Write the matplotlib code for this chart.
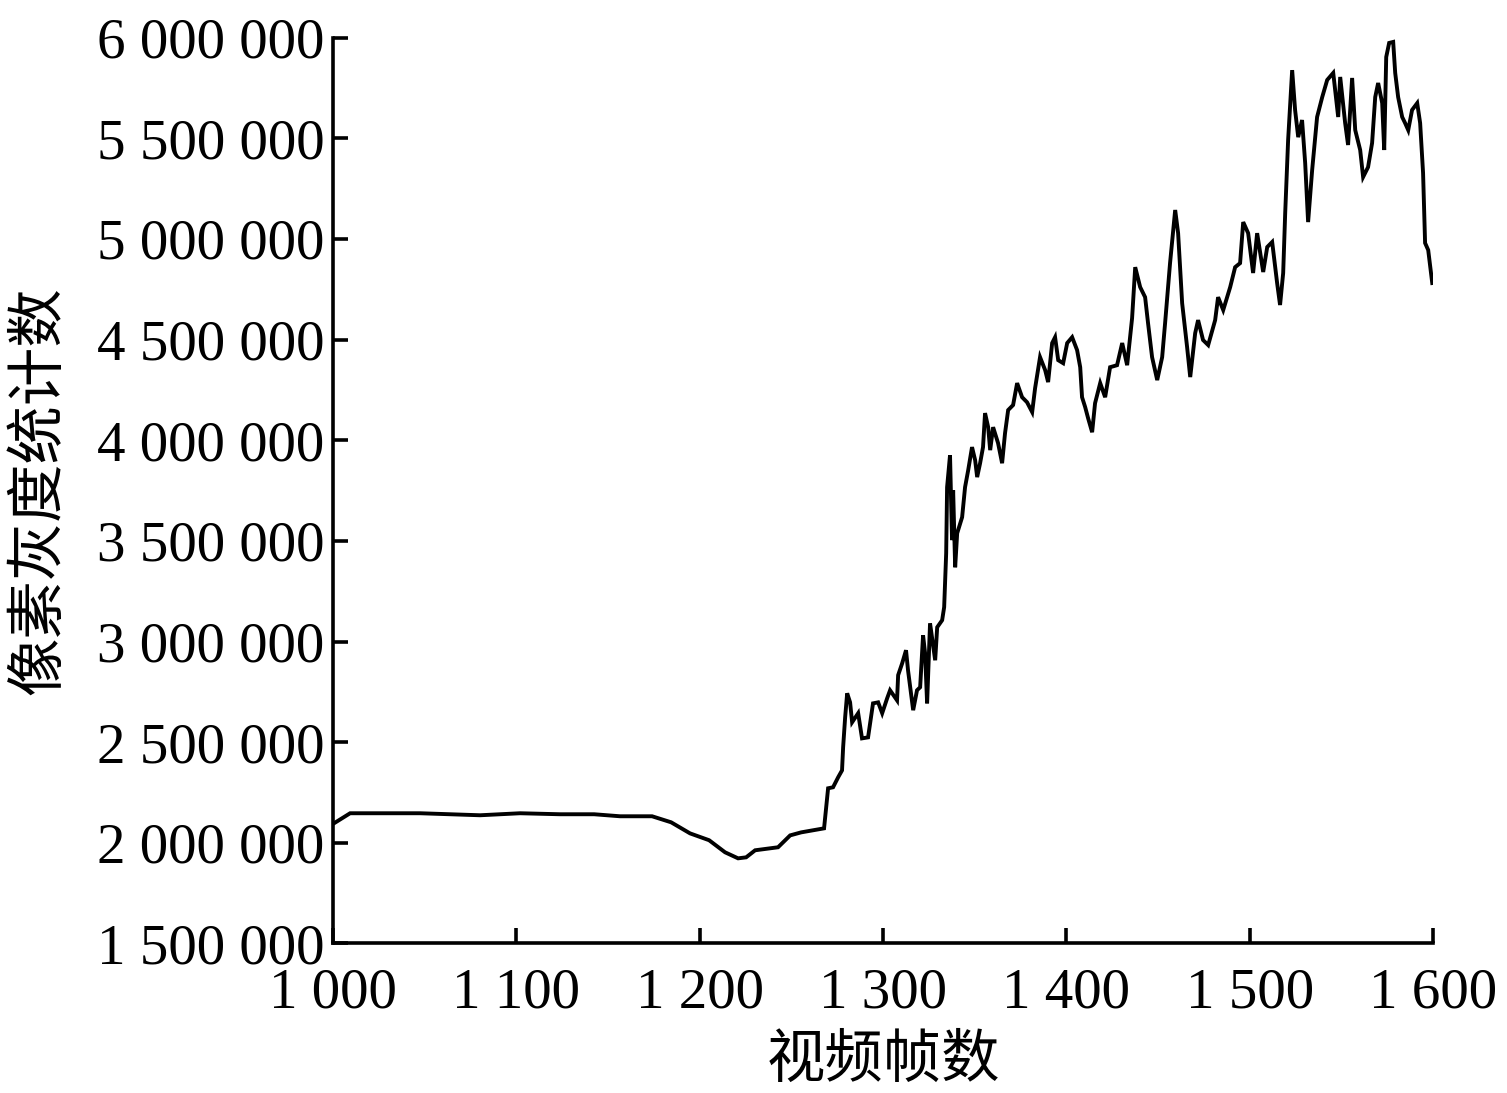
import matplotlib
matplotlib.use("Agg")
import matplotlib.pyplot as plt
from matplotlib.ticker import FuncFormatter

frames = [1000.5, 1009.3, 1017.5, 1047.5, 1080.2, 1102.0, 1123.8, 1142.4, 1156.5, 1174.0,
          1184.4, 1194.7, 1205.1, 1213.8, 1220.9, 1225.3, 1230.2, 1242.7, 1249.3, 1255.3,
          1267.8, 1270.0, 1272.7, 1275.5, 1277.6, 1278.2, 1279.3, 1280.4, 1282.0, 1283.1,
          1286.4, 1288.5, 1291.8, 1294.5, 1297.3, 1299.5, 1302.2, 1303.8, 1307.6, 1308.2,
          1310.4, 1312.5, 1313.6, 1316.4, 1318.5, 1320.2, 1321.8, 1322.9, 1324.0, 1325.6,
          1328.4, 1329.5, 1332.2, 1333.3, 1334.4, 1334.9, 1336.5, 1337.6, 1338.2, 1339.3,
          1340.4, 1343.1, 1344.7, 1346.4, 1348.5, 1350.2, 1351.3, 1352.9, 1354.5, 1355.6,
          1357.3, 1358.4, 1360.0, 1362.7, 1364.9, 1366.5, 1368.2, 1370.9, 1373.1, 1375.8,
          1378.5, 1381.3, 1382.9, 1385.6, 1388.4, 1390.0, 1392.2, 1393.8, 1395.5, 1398.2,
          1400.4, 1403.1, 1405.8, 1407.5, 1408.5, 1410.2, 1411.8, 1414.0, 1415.6, 1418.4,
          1421.1, 1423.8, 1427.6, 1430.4, 1433.1, 1435.8, 1437.5, 1440.2, 1442.9, 1444.5,
          1446.7, 1449.5, 1452.2, 1453.8, 1456.5, 1459.3, 1460.9, 1463.1, 1465.8, 1467.5,
          1470.2, 1471.8, 1474.5, 1477.3, 1481.1, 1482.7, 1485.5, 1489.3, 1492.0, 1494.7,
          1496.4, 1499.1, 1501.8, 1504.0, 1507.3, 1509.5, 1512.2, 1514.9, 1516.5, 1518.2,
          1519.3, 1520.9, 1523.1, 1524.7, 1526.4, 1528.5, 1530.2, 1531.8, 1534.0, 1536.7,
          1539.5, 1542.2, 1545.5, 1548.2, 1549.3, 1552.0, 1553.6, 1555.8, 1557.5, 1560.2,
          1561.8, 1564.5, 1566.7, 1568.4, 1570.0, 1572.2, 1573.3, 1574.4, 1576.0, 1578.2,
          1579.3, 1580.9, 1583.1, 1584.7, 1586.4, 1588.5, 1591.3, 1592.9, 1594.5, 1595.6,
          1597.3, 1599.5]

counts_k = [2097, 2147, 2147, 2147, 2137, 2147, 2142, 2142, 2132, 2132,
            2102, 2047, 2013, 1953, 1923, 1928, 1963, 1978, 2037, 2052,
            2072, 2271, 2276, 2326, 2360, 2475, 2624, 2743, 2698, 2599,
            2644, 2519, 2524, 2693, 2698, 2644, 2718, 2758, 2708, 2833,
            2892, 2957, 2857, 2659, 2758, 2773, 3031, 2942, 2693, 3091,
            2907, 3071, 3106, 3171, 3439, 3767, 3926, 3504, 3752, 3369,
            3538, 3618, 3767, 3851, 3966, 3901, 3817, 3886, 3966, 4135,
            4065, 3951, 4065, 3986, 3886, 4035, 4150, 4175, 4284, 4214,
            4189, 4140, 4259, 4413, 4348, 4289, 4483, 4512, 4398, 4383,
            4483, 4512, 4448, 4363, 4214, 4165, 4110, 4040, 4184, 4284,
            4214, 4363, 4373, 4483, 4373, 4607, 4860, 4761, 4711, 4582,
            4413, 4299, 4413, 4582, 4880, 5144, 5029, 4681, 4463, 4314,
            4532, 4597, 4498, 4473, 4597, 4711, 4647, 4761, 4860, 4880,
            5084, 5029, 4831, 5029, 4836, 4960, 4985, 4781, 4672, 4831,
            5129, 5492, 5839, 5641, 5506, 5591, 5377, 5084, 5342, 5606,
            5705, 5790, 5825, 5606, 5805, 5576, 5467, 5800, 5541, 5442,
            5308, 5357, 5477, 5705, 5775, 5675, 5442, 5904, 5974, 5979,
            5825, 5705, 5606, 5576, 5541, 5641, 5675, 5576, 5328, 4980,
            4945, 4781]

counts = [v * 1000 for v in counts_k]

x_ticks = [1000, 1100, 1200, 1300, 1400, 1500, 1600]
y_ticks = [1500000, 2000000, 2500000, 3000000, 3500000, 4000000, 4500000, 5000000, 5500000, 6000000]
x_label = "视频帧数"
y_label = "像素灰度统计数"

serif = ["Liberation Serif", "DejaVu Serif"]
cjk = ["Noto Sans CJK SC", "DejaVu Sans"]

def fmt(v, pos):
    return "{:,}".format(int(round(v))).replace(",", " ")

fig = plt.figure(figsize=(15.07, 10.93), dpi=100)
ax = fig.add_axes([0.221, 0.1368, 0.730, 0.8287])
ax.plot(frames, counts, color="black", linewidth=2.8, solid_joinstyle="miter")
ax.set_xlim(1000, 1600)
ax.set_ylim(1500000, 6000000)
ax.set_xticks(x_ticks)
ax.set_yticks(y_ticks)
ax.xaxis.set_major_formatter(FuncFormatter(fmt))
ax.yaxis.set_major_formatter(FuncFormatter(fmt))
for s in ["top", "right"]:
    ax.spines[s].set_visible(False)
for s in ["left", "bottom"]:
    ax.spines[s].set_linewidth(2.6)
ax.tick_params(axis="both", direction="in", length=11, width=2.6)
ax.tick_params(axis="y", pad=6)
ax.tick_params(axis="x", pad=17)
for lbl in ax.get_xticklabels() + ax.get_yticklabels():
    lbl.set_fontfamily(serif)
    lbl.set_fontsize(41)
ax.set_xlabel(x_label, fontfamily=cjk, fontsize=42, labelpad=8)
ax.set_ylabel(y_label, fontfamily=cjk, fontsize=42, labelpad=20)
fig.savefig("out.png", dpi=100)
